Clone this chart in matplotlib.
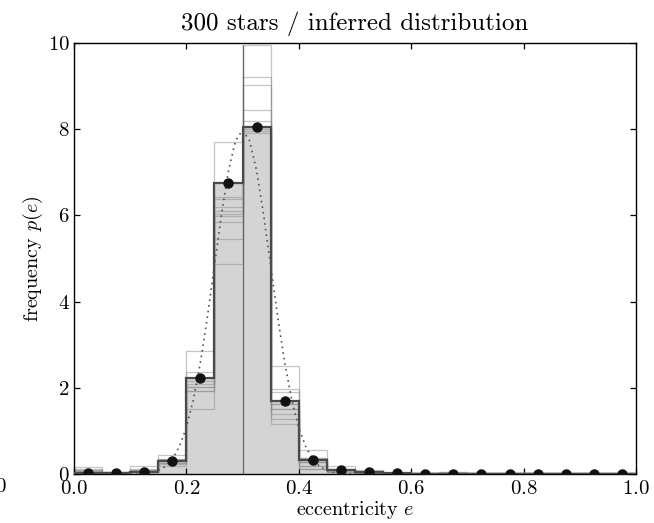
import numpy as np
import matplotlib
matplotlib.use("Agg")
import matplotlib.pyplot as plt

plt.rcParams['font.family'] = 'serif'
plt.rcParams['font.serif'] = ['cmr10', 'DejaVu Serif']
plt.rcParams['mathtext.fontset'] = 'cm'
plt.rcParams['axes.formatter.use_mathtext'] = True

# ---- data ----
bin_edges = [0.0, 0.05, 0.1, 0.15, 0.2, 0.25, 0.3, 0.35, 0.4, 0.45, 0.5,
             0.55, 0.6, 0.65, 0.7, 0.75, 0.8, 0.85, 0.9, 0.95, 1.0]

# inferred (mean) histogram heights, also shown as dots
inferred = [0.02, 0.03, 0.06, 0.32, 2.23, 6.75, 8.05, 1.71, 0.33, 0.11,
            0.05, 0.02, 0.01, 0.01, 0.01, 0.01, 0.01, 0.01, 0.01, 0.01]

# individual posterior samples (thin outlines)
sample_1 = [0.17, 0.06, 0.19, 0.27, 2.02, 4.87, 9.94, 1.63, 0.37, 0.19, 0.11, 0.03, 0.03, 0.065, 0.02, 0.02, 0.02, 0.02, 0.02, 0.02]
sample_2 = [0.10, 0.04, 0.12, 0.36, 1.94, 5.45, 9.22, 1.90, 0.13, 0.09, 0.04, 0.02, 0.02, 0.04, 0.02, 0.02, 0.02, 0.02, 0.02, 0.02]
sample_3 = [0.05, 0.03, 0.08, 0.46, 2.17, 5.84, 9.02, 1.52, 0.28, 0.05, 0.03, 0.02, 0.02, 0.03, 0.02, 0.02, 0.02, 0.02, 0.02, 0.02]
sample_4 = [0.12, 0.05, 0.05, 0.24, 1.52, 5.99, 8.44, 2.52, 0.57, 0.12, 0.05, 0.03, 0.02, 0.05, 0.02, 0.02, 0.02, 0.02, 0.02, 0.02]
sample_5 = [0.03, 0.02, 0.10, 0.30, 2.37, 6.03, 8.19, 1.40, 0.28, 0.09, 0.06, 0.02, 0.03, 0.03, 0.02, 0.02, 0.02, 0.02, 0.02, 0.02]
sample_6 = [0.08, 0.03, 0.07, 0.20, 2.85, 6.11, 7.92, 1.28, 0.20, 0.07, 0.04, 0.02, 0.02, 0.02, 0.02, 0.02, 0.02, 0.02, 0.02, 0.02]
sample_7 = [0.06, 0.04, 0.09, 0.34, 2.02, 6.19, 8.04, 1.98, 0.37, 0.05, 0.03, 0.02, 0.02, 0.04, 0.02, 0.02, 0.02, 0.02, 0.02, 0.02]
sample_8 = [0.04, 0.02, 0.06, 0.27, 1.94, 7.70, 7.96, 1.17, 0.13, 0.05, 0.02, 0.02, 0.02, 0.03, 0.02, 0.02, 0.02, 0.02, 0.02, 0.02]
sample_9 = [0.07, 0.05, 0.11, 0.30, 2.10, 6.42, 8.06, 1.52, 0.28, 0.09, 0.05, 0.02, 0.02, 0.03, 0.02, 0.02, 0.02, 0.02, 0.02, 0.02]
sample_10 = [0.09, 0.03, 0.08, 0.36, 2.23, 6.38, 8.00, 1.63, 0.20, 0.12, 0.04, 0.03, 0.02, 0.04, 0.02, 0.02, 0.02, 0.02, 0.02, 0.02]
samples = [sample_1, sample_2, sample_3, sample_4, sample_5,
           sample_6, sample_7, sample_8, sample_9, sample_10]

# true distribution (dotted curve)
true_e = [0.0, 0.1, 0.1125, 0.125, 0.1375, 0.15, 0.1625, 0.175, 0.1875, 0.2,
          0.2125, 0.225, 0.2375, 0.25, 0.2625, 0.275, 0.2875, 0.3, 0.3125,
          0.325, 0.3375, 0.35, 0.3625, 0.375, 0.3875, 0.4, 0.4125, 0.425,
          0.4375, 0.45, 0.4625, 0.475, 0.4875, 0.5, 1.0]
true_p = [0.0, 0.003, 0.007, 0.018, 0.041, 0.089, 0.18, 0.35, 0.64, 1.08,
          1.73, 2.59, 3.65, 4.84, 6.02, 7.04, 7.73, 7.98, 7.73,
          7.04, 6.02, 4.84, 3.65, 2.59, 1.73, 1.08, 0.64, 0.35,
          0.18, 0.089, 0.041, 0.018, 0.007, 0.003, 0.0]

true_mean = 0.3

x_ticks = [0.0, 0.2, 0.4, 0.6, 0.8, 1.0]
y_ticks = [0, 2, 4, 6, 8, 10]

# ---- plot ----
fig = plt.figure(figsize=(6.54, 5.23), dpi=100)
ax = fig.add_axes([0.113, 0.093, 0.8595, 0.825])

edges = np.array(bin_edges)
centers = 0.5 * (edges[:-1] + edges[1:])

ax.hist(centers, bins=edges, weights=inferred, histtype='stepfilled',
        facecolor='#d4d4d4', edgecolor='none', zorder=1)
for s in samples:
    ax.hist(centers, bins=edges, weights=s, histtype='step',
            color='#8c8c8c', alpha=0.5, linewidth=0.9, zorder=2)
ax.hist(centers, bins=edges, weights=inferred, histtype='step',
        color='#4a4a4a', linewidth=1.6, zorder=3)
ax.vlines(true_mean, 0, max(max(s) for s in samples), color='#666666',
          linewidth=0.9, zorder=2)
ax.plot(true_e, true_p, linestyle=(0, (1, 2.4)), color='#555555',
        linewidth=1.2, zorder=4)
ax.plot(centers, inferred, 'o', color='#111111', markersize=6.5, zorder=5)

ax.set_xlim(0, 1)
ax.set_ylim(0, 10)
ax.set_xticks(x_ticks)
ax.set_yticks(y_ticks)
ax.tick_params(direction='in', top=True, right=True, length=4, width=0.9,
               labelsize=15)
ax.tick_params(axis='x', pad=4)
ax.tick_params(axis='y', pad=3)
for sp in ax.spines.values():
    sp.set_linewidth(1.0)
ax.set_xlabel(r'eccentricity $e$', fontsize=14.5, labelpad=1)
ax.set_ylabel(r'frequency $p(e)$', fontsize=14.5, labelpad=2)
ax.set_title('300 stars / inferred distribution', fontsize=18, pad=9)

fig.text(0.0, 0.068, '0', fontsize=15, ha='center', va='center')

fig.savefig('out.png', dpi=100)
